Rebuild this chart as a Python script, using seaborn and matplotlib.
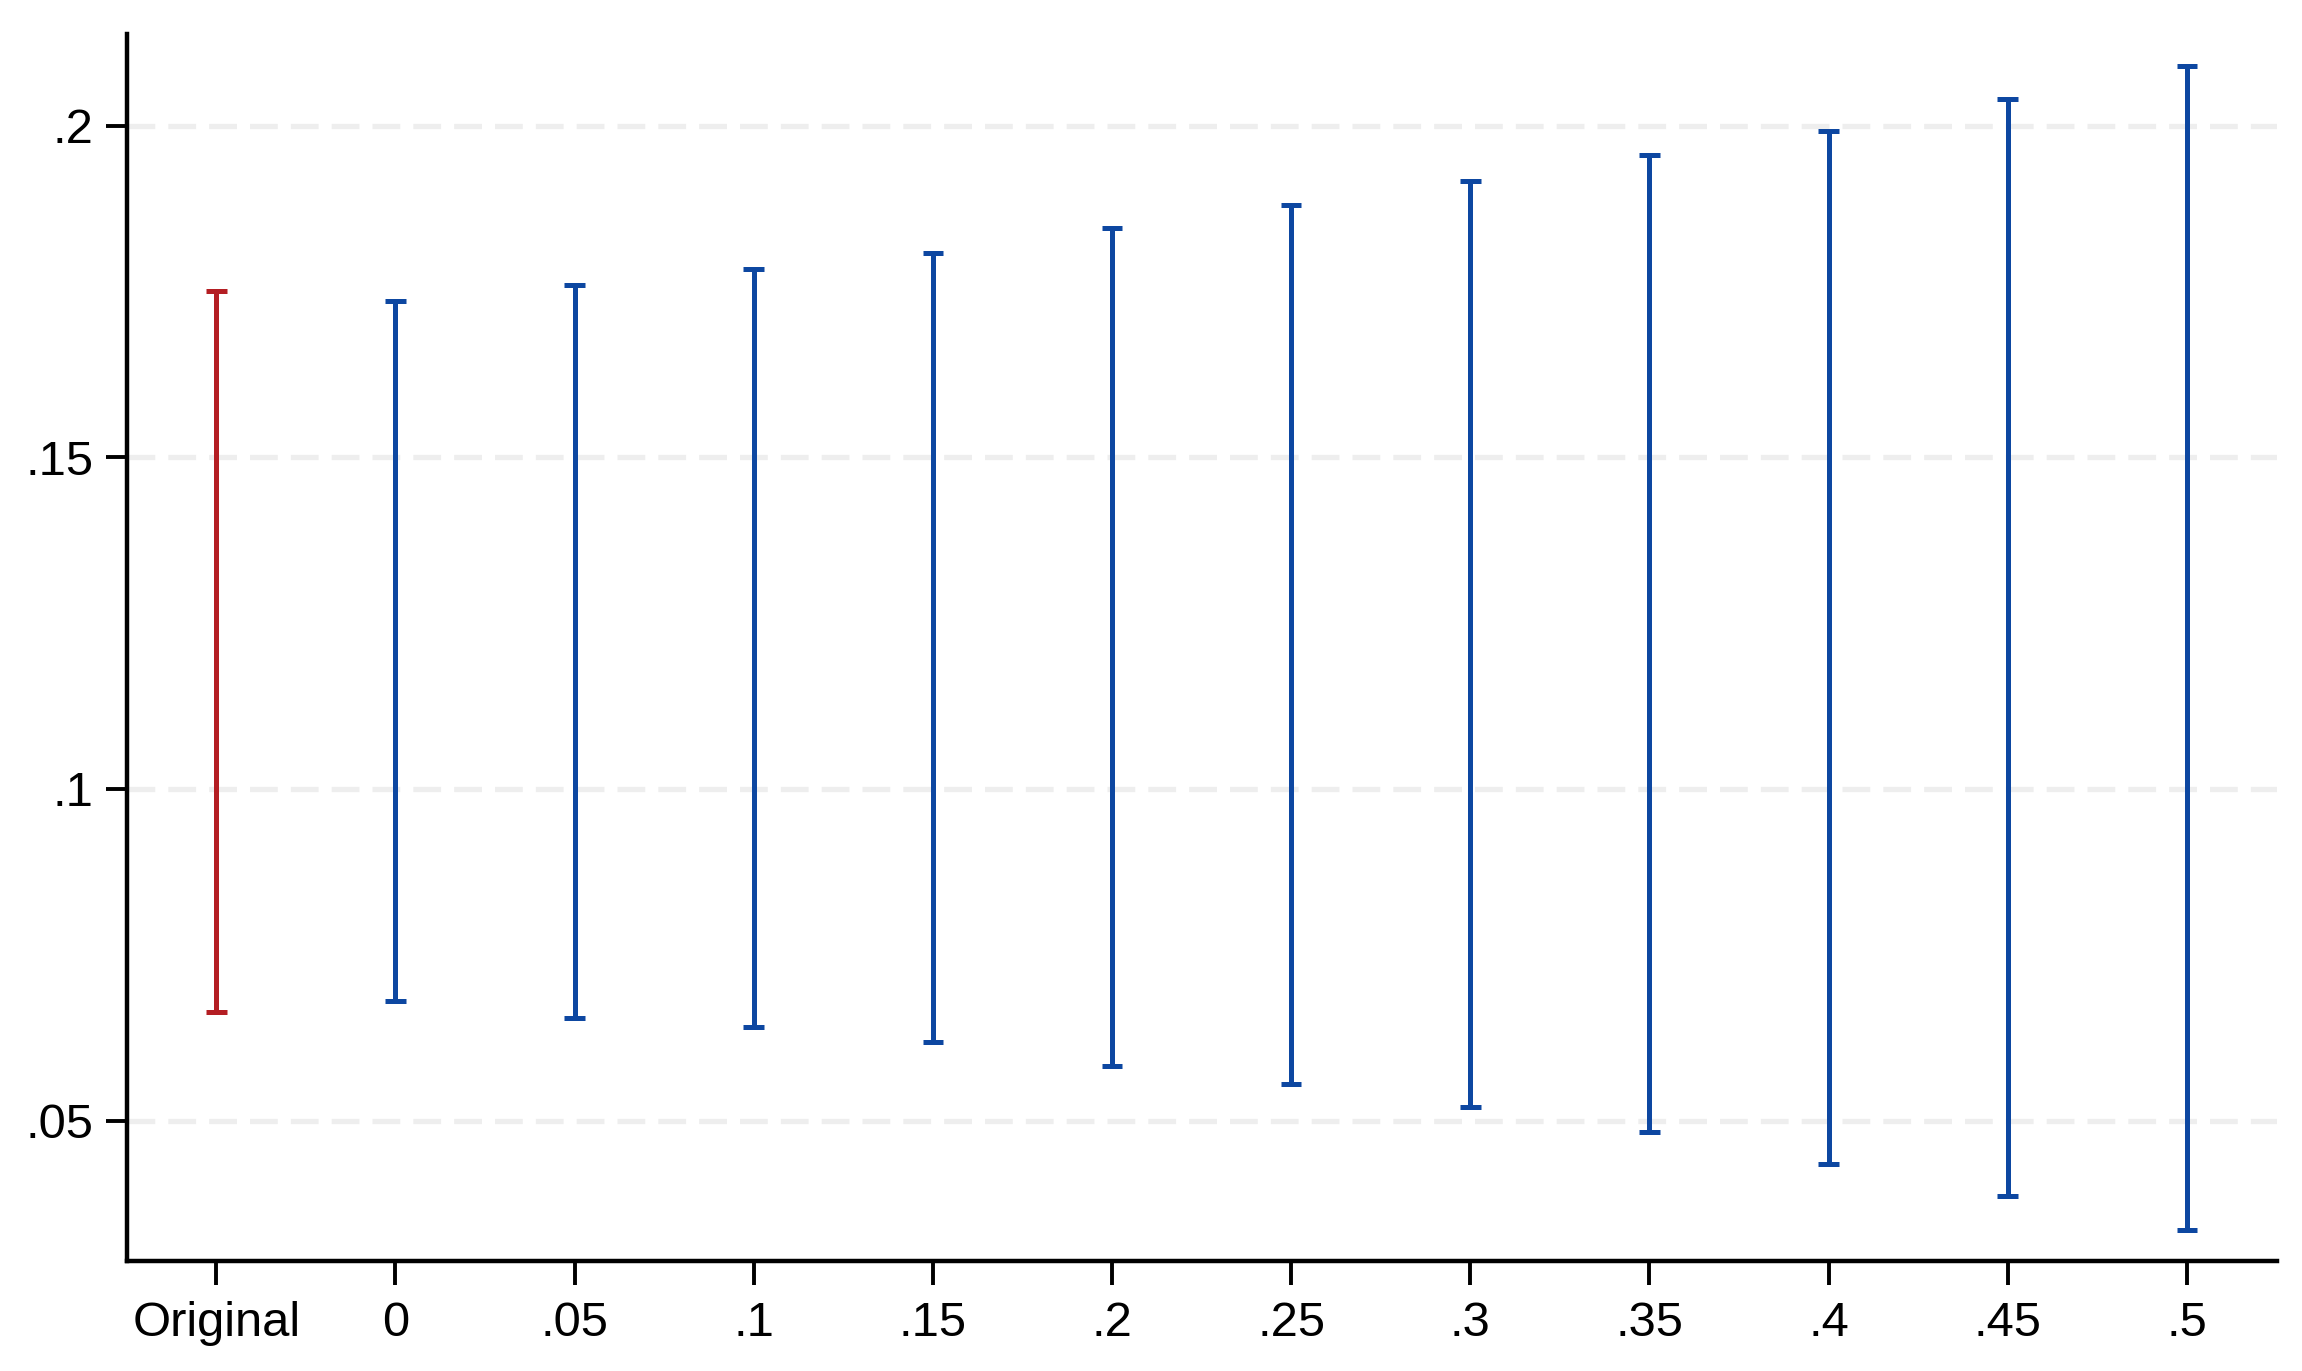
import numpy as np
import pandas as pd
import matplotlib
matplotlib.use("Agg")
import matplotlib.pyplot as plt
import seaborn as sns

# ---- data ----
categories = ["Original", "0", ".05", ".1", ".15", ".2", ".25", ".3", ".35", ".4", ".45", ".5"]
lower = [0.0664, 0.0680, 0.0655, 0.0642, 0.0618, 0.0582, 0.0556, 0.0520, 0.0483, 0.0435, 0.0386, 0.0336]
upper = [0.1751, 0.1735, 0.1760, 0.1784, 0.1808, 0.1845, 0.1881, 0.1917, 0.1955, 0.1992, 0.2040, 0.2090]
ytick_values = [0.05, 0.10, 0.15, 0.20]
ytick_labels = [".05", ".1", ".15", ".2"]

red = "#B41E23"
blue = "#0D47A1"
palette = [red] + [blue] * (len(categories) - 1)

sns.set_style("white")
plt.rcParams["font.family"] = ["Liberation Sans", "DejaVu Sans"]

df = pd.DataFrame({
    "cat": categories * 2,
    "val": lower + upper,
})

W, H, DPI = 2302, 1371, 200
fig = plt.figure(figsize=(W / DPI, H / DPI), dpi=DPI)
ax = fig.add_axes([126.7 / W, 1 - 1260.7 / H, (2276.5 - 126.7) / W, (1260.7 - 34) / H])

sns.pointplot(
    data=df, x="cat", y="val", hue="cat", order=categories, hue_order=categories,
    palette=palette, errorbar=("pi", 100), capsize=0.115,
    markers="", linestyles="none", legend=False,
    err_kws={"linewidth": 1.8, "solid_capstyle": "butt"},
    ax=ax,
)

ax.set_xlim(-0.5, len(categories) - 0.5)
ax.set_ylim(0.0289, 0.2138)
ax.set_yticks(ytick_values)
ax.set_yticklabels(ytick_labels)
ax.set_xlabel("")
ax.set_ylabel("")

# grid: light grey dashed horizontal lines
lw_grid = 1.9
ax.yaxis.grid(True, color="#EEEEEE", linewidth=lw_grid,
              linestyle=(0, (10 / lw_grid, 4.7 / lw_grid)))
ax.xaxis.grid(False)
ax.set_axisbelow(True)

for side in ["top", "right"]:
    ax.spines[side].set_visible(False)
for side in ["left", "bottom"]:
    ax.spines[side].set_color("black")
    ax.spines[side].set_linewidth(1.6)

ax.tick_params(axis="both", which="major", direction="out", color="black",
               width=1.4, labelsize=17.6, labelcolor="black",
               bottom=True, left=True, top=False, right=False)
ax.tick_params(axis="y", length=7.4, pad=4.5)
ax.tick_params(axis="x", length=8.5, pad=6.0)

fig.savefig("out.png", dpi=DPI, facecolor="white")
